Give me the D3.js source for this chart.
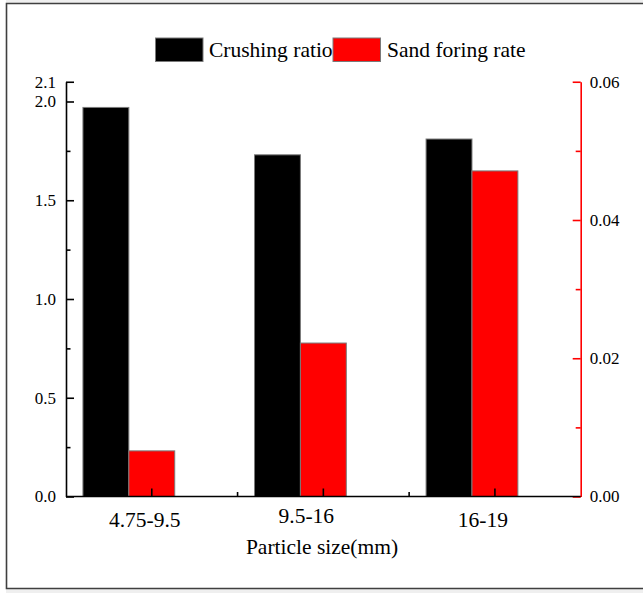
<!DOCTYPE html>
<html>
<head>
<meta charset="utf-8">
<script src="https://cdn.jsdelivr.net/npm/d3@7"></script>
<style>
  html, body { margin: 0; padding: 0; background: #fff; }
  svg { display: block; }
  text { font-family: "Liberation Serif", "Times New Roman", serif; fill: #000; }
</style>
</head>
<body>
<script>
// Particle size groups and the two measured series
const categories = ["4.75-9.5", "9.5-16", "16-19"];
const seriesNames = ["Crushing ratio", "Sand foring rate"];
const crushingRatio = [1.97, 1.73, 1.81];
const sandFormingRate = [0.0066, 0.0222, 0.0471];

// Axis ticks
const leftMajor = [0, 0.5, 1.0, 1.5, 2.0, 2.1];
const leftMinor = [0.25, 0.75, 1.25, 1.75];
const rightMajor = [0, 0.02, 0.04, 0.06];
const rightMinor = [0.01, 0.03, 0.05];

// Small horizontal/vertical nudges of the category labels
const labelDx = [-7, -17, -12];
const labelDy = [0, -4, 0];

const SERIF = '"Liberation Serif", "Times New Roman", serif';
const W = 643, H = 593;
const plotLeft = 66, plotRight = 580.7, plotTop = 81.75, plotBottom = 496.5;

const svg = d3.select("body").append("svg")
  .attr("width", W).attr("height", H)
  .attr("font-family", SERIF);

// Page frame
svg.append("rect").attr("x", 6).attr("y", 0).attr("width", W).attr("height", 3.5).attr("fill", "#efefef");
svg.append("rect").attr("x", 6).attr("y", 589).attr("width", W).attr("height", 10).attr("fill", "#efefef");
svg.append("path")
  .attr("d", `M${W + 5},3.5 H6.5 V588.5 H${W + 5}`)
  .attr("fill", "none").attr("stroke", "#3f3f3f").attr("stroke-width", 1.6);

// Scales
const x = d3.scaleBand().domain(categories).range([plotLeft, plotRight]).padding(0);
const bw = x.bandwidth();
const barW = bw * 0.2675;
const xSub = d3.scaleBand().domain(seriesNames)
  .range([bw / 2 - 1.5 * barW, bw / 2 + 0.5 * barW]).padding(0);
const yL = d3.scaleLinear().domain([0, 2.1]).range([plotBottom, plotTop]);
const yR = d3.scaleLinear().domain([0, 0.06]).range([plotBottom, plotTop]);

const colors = { "Crushing ratio": "#000000", "Sand foring rate": "#ff0000" };

// Bars
const g = svg.append("g");
g.selectAll("rect.crush").data(categories).join("rect")
  .attr("class", "crush")
  .attr("x", (d) => x(d) + xSub("Crushing ratio"))
  .attr("width", xSub.bandwidth())
  .attr("y", (d, i) => yL(crushingRatio[i]))
  .attr("height", (d, i) => yL(0) - yL(crushingRatio[i]))
  .attr("fill", colors["Crushing ratio"])
  .attr("stroke", "#7a7a7a").attr("stroke-width", 1);

g.selectAll("rect.sand").data(categories).join("rect")
  .attr("class", "sand")
  .attr("x", (d) => x(d) + xSub("Sand foring rate"))
  .attr("width", xSub.bandwidth())
  .attr("y", (d, i) => yR(sandFormingRate[i]))
  .attr("height", (d, i) => yR(0) - yR(sandFormingRate[i]))
  .attr("fill", colors["Sand foring rate"])
  .attr("stroke", "#7a7a7a").attr("stroke-width", 1);

function styleAxis(sel, color, fontSize) {
  sel.attr("font-family", SERIF).attr("font-size", fontSize);
  sel.selectAll("path, line").attr("stroke", color).attr("stroke-width", 1.6);
  sel.selectAll("text").attr("font-size", fontSize).attr("fill", "#000")
    .attr("font-family", SERIF);
}

// Left axis
const leftAxis = svg.append("g").attr("transform", `translate(${plotLeft},0)`)
  .call(d3.axisLeft(yL).tickValues(leftMajor).tickFormat(d3.format(".1f"))
    .tickSizeInner(-8).tickSizeOuter(0).tickPadding(10));
styleAxis(leftAxis, "#000", 17);
const leftMinorAxis = svg.append("g").attr("transform", `translate(${plotLeft},0)`)
  .call(d3.axisLeft(yL).tickValues(leftMinor).tickFormat("")
    .tickSizeInner(-4.5).tickSizeOuter(0));
styleAxis(leftMinorAxis, "#000", 17);
leftMinorAxis.select("path").remove();

// Right axis
const rightAxis = svg.append("g").attr("transform", `translate(${plotRight},0)`)
  .call(d3.axisRight(yR).tickValues(rightMajor).tickFormat(d3.format(".2f"))
    .tickSizeInner(-8).tickSizeOuter(0).tickPadding(9));
styleAxis(rightAxis, "#ff0000", 17);
const rightMinorAxis = svg.append("g").attr("transform", `translate(${plotRight},0)`)
  .call(d3.axisRight(yR).tickValues(rightMinor).tickFormat("")
    .tickSizeInner(-5).tickSizeOuter(0));
styleAxis(rightMinorAxis, "#ff0000", 17);
rightMinorAxis.select("path").remove();

// Bottom axis: major ticks at category centres, minor ticks at band edges
const bottomAxis = svg.append("g").attr("transform", `translate(0,${plotBottom})`)
  .call(d3.axisBottom(x).tickSizeInner(-8).tickSizeOuter(0).tickPadding(15));
styleAxis(bottomAxis, "#000", 21.5);
bottomAxis.select("path").attr("d", `M${plotLeft},0H${plotRight}`);
bottomAxis.selectAll(".tick text")
  .attr("dx", (d, i) => labelDx[i])
  .attr("transform", (d, i) => `translate(0,${labelDy[i]})`);
const edges = categories.slice(1).map((c) => x(c));
svg.append("g").selectAll("line").data(edges).join("line")
  .attr("x1", (d) => d).attr("x2", (d) => d)
  .attr("y1", plotBottom).attr("y2", plotBottom - 4.5)
  .attr("stroke", "#000").attr("stroke-width", 1.6);

// Axis title
svg.append("text").attr("x", 322).attr("y", 554)
  .attr("text-anchor", "middle").attr("font-size", 21.5)
  .attr("font-family", SERIF)
  .text("Particle size(mm)");

// Legend
const legend = svg.append("g");
const legendItems = [
  { name: seriesNames[0], sx: 155.5, tx: 209 },
  { name: seriesNames[1], sx: 333, tx: 387 }
];
legendItems.forEach((it) => {
  legend.append("rect").attr("x", it.sx).attr("y", 38).attr("width", 47.5).attr("height", 23.5)
    .attr("fill", colors[it.name]).attr("stroke", "#7a7a7a").attr("stroke-width", 1);
  legend.append("text").attr("x", it.tx).attr("y", 56.7)
    .attr("font-size", 21.5).attr("font-family", SERIF).text(it.name);
});
</script>
</body>
</html>
